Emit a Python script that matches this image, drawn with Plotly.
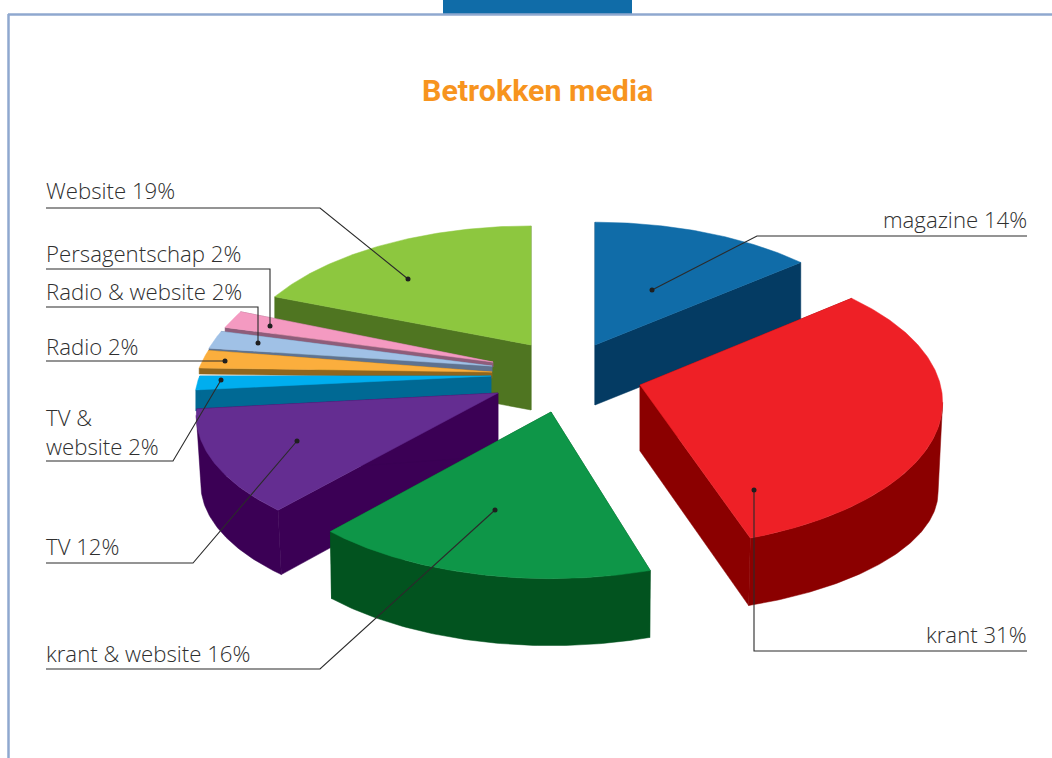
import math
import plotly.graph_objects as go

# ---- data ----
categories = ["magazine", "krant", "krant & website", "TV", "TV &<br>website",
              "Radio", "Radio & website", "Persagentschap", "Website"]
values = [14, 31, 16, 12, 2, 2, 2, 2, 19]
title_text = "Betrokken media"

# ---- styles (not data) ----
top_colors = ["#106CA8", "#EE2026", "#0E9648", "#642D91", "#00AEEF",
              "#FBAE3D", "#A0C1E6", "#F49AC1", "#8DC73F"]
side_colors = ["#043B63", "#8B0000", "#02531F", "#3B0055", "#006994",
               "#8F651E", "#5F7390", "#8E5D7A", "#4F7521"]
apex_x = [595, 640, 551, 498, 491, 492, 492, 493, 531]
apex_y = [345, 385, 412, 393, 376, 372, 366, 362, 345]
scale_x = [0.97, 0.985, 0.96, 0.975, 0.955, 0.965, 0.955, 0.945, 0.96]
scale_y = [0.99, 0.99, 0.955, 0.92, 0.75, 1.0, 1.0, 1.0, 0.96]
persp = [0.169, 0.12, 0.169, 0.169, 0.169, 0.169, 0.169, 0.169, 0.169]
depths = [60, 66, 67, 63, 21, 6, 6, 5, 65]
bulges = [0, 27, 0, 6, 0, 0, 0, 0, 0]
shrink = [1, 0.985, 0.995, 0.985, 1, 1, 1, 1, 1]
rotation = [0, -1, 1.5, 0.5, 0, 1.6, 0, 0, 0]
draw_order = [8, 7, 6, 5, 4, 3, 0, 1, 2]

RX, RY = 305, 145

leader_paths = {
    "magazine": [(1027, 236), (757, 236), (652, 290)],
    "krant": [(1027, 651), (754, 651), (754, 490)],
    "krant & website": [(46, 669), (320, 669), (495, 510)],
    "TV": [(46, 563), (193, 563), (297, 441)],
    "TV &<br>website": [(46, 461), (173, 461), (221, 380)],
    "Radio": [(46, 361), (225, 361)],
    "Radio & website": [(46, 307), (258, 307), (258, 343)],
    "Persagentschap": [(46, 269), (270, 269), (270, 326)],
    "Website": [(46, 208), (320, 208), (408, 279)],
}
label_pos = {
    "magazine": (1027, 219, "right"),
    "krant": (1027, 634, "right"),
    "krant & website": (46, 653, "left"),
    "TV": (46, 546, "left"),
    "TV &<br>website": (46, 432, "left"),
    "Radio": (46, 346, "left"),
    "Radio & website": (46, 291, "left"),
    "Persagentschap": (46, 253, "left"),
    "Website": (46, 190, "left"),
}


def project(i, theta_deg):
    t = math.radians(theta_deg + rotation[i])
    u, v = math.sin(t), math.cos(t)
    s = 1 / (1 + persp[i] * v)
    return (apex_x[i] + RX * scale_x[i] * s * u,
            apex_y[i] - RY * scale_y[i] * s * v,
            v)


def bottom(i, pt):
    x, y, v = pt
    return (apex_x[i] + (x - apex_x[i]) * shrink[i],
            y + depths[i] + bulges[i] * (1 - abs(v)))


def wedge(i, a0, a1):
    n = max(8, int((a1 - a0) * 1.5))
    arc = [project(i, a0 + (a1 - a0) * k / n) for k in range(n + 1)]
    ax, ay, d = apex_x[i], apex_y[i], depths[i]
    arc_b = [bottom(i, p) for p in arc]
    sides = []
    for end, end_b in ((arc[0], arc_b[0]), (arc[-1], arc_b[-1])):
        sides.append(([ax, end[0], end_b[0], ax, ax],
                      [ay, end[1], end_b[1], ay + d, ay]))
    # outer wall: only the part between the arc's silhouette points
    xs = [p[0] for p in arc]
    lo, hi = xs.index(max(xs)), xs.index(min(xs))
    if lo < hi:
        top_part, bot_part = arc[lo:hi + 1], arc_b[lo:hi + 1]
        sides.append(([p[0] for p in top_part] + [p[0] for p in reversed(bot_part)] + [top_part[0][0]],
                      [p[1] for p in top_part] + [p[1] for p in reversed(bot_part)] + [top_part[0][1]]))
    tx = [ax] + xs + [ax]
    ty = [ay] + [p[1] for p in arc] + [ay]
    return sides, tx, ty


total = sum(values)
starts, acc = [], 0
for val in values:
    starts.append(acc / total * 360)
    acc += val

fig = go.Figure()
for i in draw_order:
    a0 = starts[i]
    a1 = a0 + values[i] / total * 360
    sides, tx, ty = wedge(i, a0, a1)
    name = categories[i].replace("<br>", " ")
    for sx, sy in sides:
        fig.add_trace(go.Scatter(x=sx, y=sy, mode="lines", fill="toself",
                                 fillcolor=side_colors[i], hoverinfo="skip",
                                 line=dict(color=side_colors[i], width=0.5),
                                 showlegend=False))
    fig.add_trace(go.Scatter(x=tx, y=ty, mode="lines", fill="toself",
                             fillcolor=top_colors[i], name=name,
                             text=f"{name} {values[i]}%", hoverinfo="text",
                             line=dict(color=top_colors[i], width=0.5),
                             showlegend=False))

for cat, path in leader_paths.items():
    fig.add_trace(go.Scatter(x=[p[0] for p in path], y=[p[1] for p in path],
                             mode="lines", hoverinfo="skip", showlegend=False,
                             line=dict(color="#2b2b2b", width=1.1)))
    fig.add_trace(go.Scatter(x=[path[-1][0]], y=[path[-1][1]], mode="markers",
                             hoverinfo="skip", showlegend=False,
                             marker=dict(color="#1f1f1f", size=5)))

annotations = [dict(x=537.5, y=90.5, text=f"<b>{title_text}</b>", showarrow=False,
                    xanchor="center", yanchor="middle",
                    font=dict(family="Roboto", size=30.4, color="#F7941E"))]
for cat, val in zip(categories, values):
    x, y, anchor = label_pos[cat]
    annotations.append(dict(x=x, y=y, text=f"{cat} {val}%", showarrow=False,
                            xanchor=anchor, yanchor="middle", align="left",
                            xshift=-2 if anchor == "left" else 2,
                            font=dict(family="Open Sans", size=22.2, weight=300,
                                      color="#2f2f2f")))

frame = "#8FA8CF"
shapes = [
    dict(type="rect", x0=443, x1=632, y0=0, y1=14, line_width=0,
         fillcolor="#106CA8", layer="below"),
    dict(type="line", x0=8, x1=1052, y0=14.5, y1=14.5,
         line=dict(color=frame, width=2.5), layer="below"),
    dict(type="line", x0=8.5, x1=8.5, y0=14, y1=758,
         line=dict(color=frame, width=2.5), layer="below"),
]

fig.update_layout(
    width=1052, height=758, margin=dict(l=0, r=0, t=0, b=0),
    paper_bgcolor="white", plot_bgcolor="white", showlegend=False,
    xaxis=dict(range=[0, 1052], visible=False, fixedrange=True),
    yaxis=dict(range=[758, 0], visible=False, fixedrange=True),
    annotations=annotations, shapes=shapes,
)
fig.write_html("out.html", config=dict(displayModeBar=False),
               post_script="document.body.style.margin='0';document.body.style.overflow='hidden';")
